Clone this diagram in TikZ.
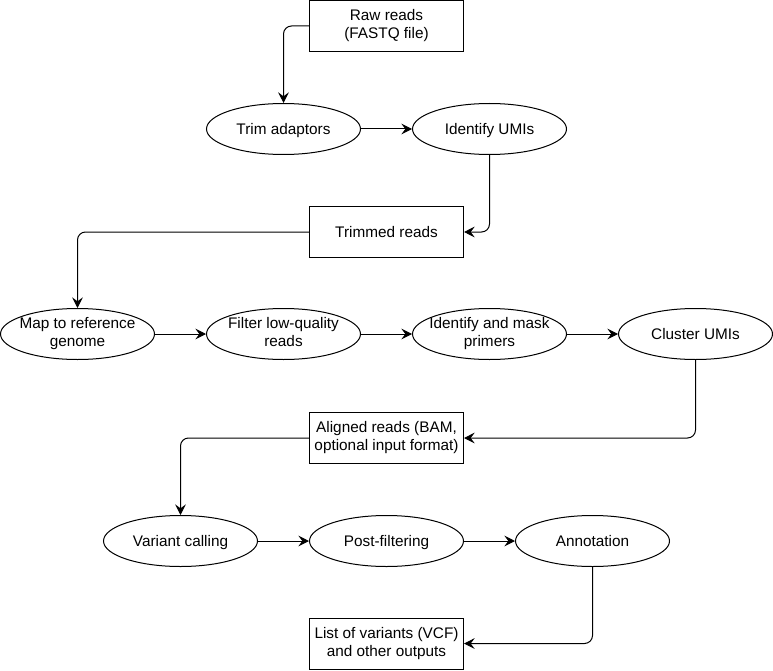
\documentclass[tikz,border=0pt]{standalone}
\usepackage{fontspec}
\setmainfont{Liberation Sans}
\usetikzlibrary{shapes.geometric,arrows.meta}
\newcommand\mystrut{\rule[-2.8pt]{0pt}{13.8pt}}
\begin{document}
\begin{tikzpicture}[x=0.75pt,y=-0.75pt,
  txt/.style={align=center,font=\fontsize{11.5}{13.5}\selectfont,inner sep=0pt,execute at begin node=\mystrut,execute at end node=\mystrut},
  ell/.style={ellipse,draw,line width=0.75pt,minimum width=115.5pt,minimum height=38.25pt,inner sep=0pt},
  box/.style={rectangle,draw,line width=0.75pt,minimum width=115.5pt,minimum height=38.25pt,inner sep=1pt,align=center,font=\fontsize{11.5}{13.5}\selectfont,execute at begin node=\mystrut,execute at end node=\mystrut},
  conn/.style={-{Stealth[length=8pt,width=8pt,inset=3pt]},line width=0.75pt,rounded corners=6pt}]
\useasboundingbox (0,0) rectangle (773,670);
\node[box] (raw) at (386.5,26) {Raw reads\\(FASTQ file)};
\node[ell,label={[txt]center:Trim adaptors}] (trim) at (283.5,129) {};
\node[ell,label={[txt]center:Identify UMIs}] (umi) at (489.5,129) {};
\node[box] (trimmed) at (386.5,232) {Trimmed reads};
\node[ell,label={[txt]center:Map to reference\\genome}] (map) at (77.5,334) {};
\node[ell,label={[txt]center:Filter low-quality\\reads}] (filter) at (283.5,334) {};
\node[ell,label={[txt]center:Identify and mask\\primers}] (mask) at (489.5,334) {};
\node[ell,label={[txt]center:Cluster UMIs}] (cluster) at (695.5,334) {};
\node[box] (aligned) at (386.5,438) {Aligned reads (BAM,\\optional input format)};
\node[ell,label={[txt]center:Variant calling}] (variant) at (180.5,541) {};
\node[ell,label={[txt]center:Post-filtering}] (post) at (386.5,541) {};
\node[ell,label={[txt]center:Annotation}] (annot) at (592.5,541) {};
\node[box] (list) at (386.5,643.5) {List of variants (VCF)\\and other outputs};
\draw[conn] (raw.west) -| (trim.north);
\draw[conn] (trim.east) -- (umi.west);
\draw[conn] (umi.south) |- (trimmed.east);
\draw[conn] (trimmed.west) -| (map.north);
\draw[conn] (map.east) -- (filter.west);
\draw[conn] (filter.east) -- (mask.west);
\draw[conn] (mask.east) -- (cluster.west);
\draw[conn] (cluster.south) |- (aligned.east);
\draw[conn] (aligned.west) -| (variant.north);
\draw[conn] (variant.east) -- (post.west);
\draw[conn] (post.east) -- (annot.west);
\draw[conn] (annot.south) |- (list.east);
\end{tikzpicture}
\end{document}
